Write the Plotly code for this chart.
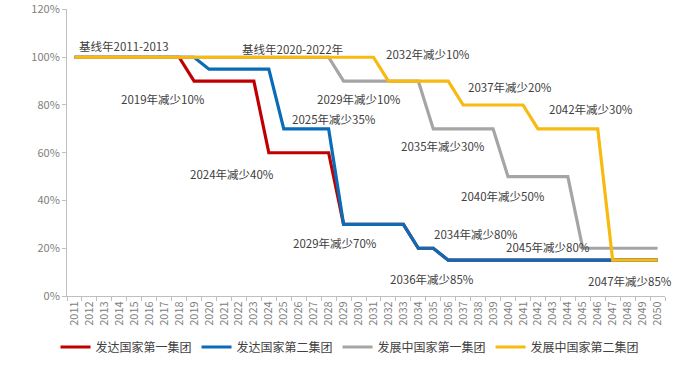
import plotly.graph_objects as go

years = [str(y) for y in range(2011, 2051)]

# values in percent, one per year 2011..2050
dev1 = [100]*8 + [90]*5 + [60]*5 + [30]*5 + [20]*2 + [15]*15
dev2 = [100]*9 + [95]*5 + [70]*4 + [30]*5 + [20]*2 + [15]*15
dvg1 = [100]*18 + [90]*6 + [70]*5 + [50]*5 + [20]*6
dvg2 = [100]*21 + [90]*5 + [80]*5 + [70]*5 + [15]*4

series_names = ["发达国家第一集团", "发达国家第二集团", "发展中国家第一集团", "发展中国家第二集团"]
series_values = [dev1, dev2, dvg1, dvg2]
series_colors = ["#C00000", "#0A6CB8", "#A5A5A5", "#F8BA10"]

y_ticks = [0, 20, 40, 60, 80, 100, 120]
y_tick_labels = ["0%", "20%", "40%", "60%", "80%", "100%", "120%"]

note_texts = ["基线年2011-2013", "基线年2020-2022年", "2019年减少10%", "2024年减少40%",
              "2025年减少35%", "2029年减少10%", "2032年减少10%", "2037年减少20%",
              "2042年减少30%", "2035年减少30%", "2040年减少50%", "2029年减少70%",
              "2034年减少80%", "2045年减少80%", "2036年减少85%", "2047年减少85%"]
# annotation anchor positions (category index, percent)
note_pos = [(0.2, 104.5), (11.1, 103.3), (2.95, 82.4), (7.6, 51.0),
            (14.4, 74.0), (16.1, 82.4), (20.7, 101.2), (26.2, 87.4),
            (31.6, 78.2), (21.7, 62.7), (25.7, 41.8), (14.5, 22.2),
            (23.9, 25.9), (28.75, 20.5), (21.0, 7.1), (34.2, 6.3)]

FONT = "Noto Sans CJK SC"

fig = go.Figure()
for name, vals, col in zip(series_names, series_values, series_colors):
    fig.add_trace(go.Scatter(x=years, y=vals, mode="lines", name=name,
                             line=dict(color=col, width=3.2)))

for t, (px, py) in zip(note_texts, note_pos):
    fig.add_annotation(x=px, y=py, xref="x", yref="y", text=t, showarrow=False,
                       xanchor="left", yanchor="middle",
                       font=dict(family=FONT, size=11.5, color="#404040"))

fig.update_layout(
    width=700, height=389,
    margin=dict(l=67, r=35, t=9, b=93, autoexpand=False),
    paper_bgcolor="white", plot_bgcolor="white",
    font=dict(family=FONT, color="#404040"),
    showlegend=True,
    legend=dict(orientation="h", x=0.5, xanchor="center", xref="container",
                y=0.108, yanchor="middle", yref="container",
                font=dict(size=12, color="#404040"),
                itemwidth=30, tracegroupgap=0),
)
fig.update_xaxes(type="category", range=[-0.5, 39.5], showgrid=False, automargin=False,
                 showline=True, linecolor="#BFBFBF", linewidth=1,
                 ticks="outside", ticklen=4, tickcolor="#BFBFBF", tickson="boundaries",
                 tickangle=-90, tickfont=dict(size=11, color="#808080"))
fig.update_yaxes(range=[0, 120.2], tickvals=y_ticks, ticktext=y_tick_labels, showgrid=False,
                 showline=True, linecolor="#BFBFBF", linewidth=1, automargin=False,
                 ticks="outside", ticklen=4, tickcolor="#BFBFBF",
                 tickfont=dict(size=11, color="#808080"), zeroline=False)

fig.write_html("out.html", config={"displayModeBar": False},
               post_script="document.body.style.margin='0';")
